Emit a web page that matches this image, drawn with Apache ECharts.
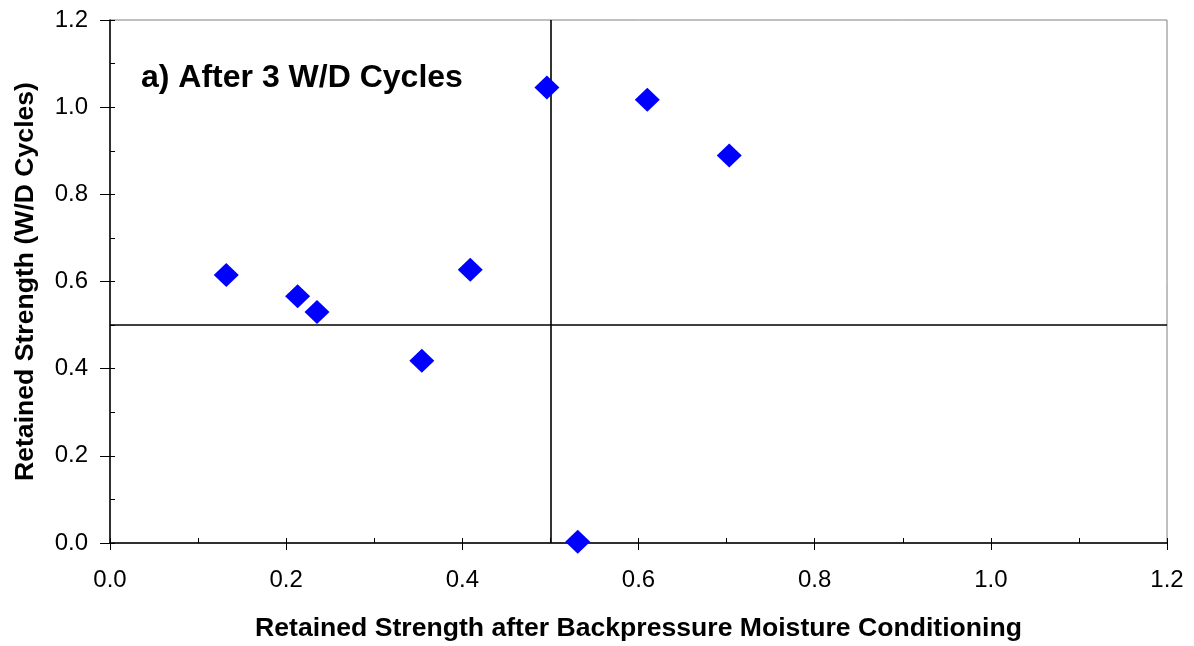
<!DOCTYPE html>
<html><head><meta charset="utf-8">
<script src="https://cdn.jsdelivr.net/npm/echarts@6/dist/echarts.min.js"></script>
<style>html,body{margin:0;padding:0;background:#fff}#c{width:1194px;height:646px}</style>
</head><body><div id="c"></div>
<script>
const xValues = [0.132, 0.213, 0.235, 0.354, 0.409, 0.496, 0.531, 0.610, 0.703];
const yValues = [0.615, 0.566, 0.530, 0.418, 0.627, 1.045, 0.003, 1.017, 0.889];
const refX = 0.5;
const refY = 0.5;
const xTitle = 'Retained Strength after Backpressure Moisture Conditioning';
const yTitle = 'Retained Strength (W/D Cycles)';
const panelLabel = 'a) After 3 W/D Cycles';

const pts = xValues.map((x, i) => [x, yValues[i]]);
const font = '"Liberation Sans", Arial, sans-serif';
const chart = echarts.init(document.getElementById('c'));
chart.setOption({
  animation: false,
  grid: { left: 110, top: 20, right: 27, bottom: 103, containLabel: false, outerBoundsMode: 'none', show: true, borderColor: '#808080', borderWidth: 1 },
  title: { text: panelLabel, left: 136, top: 57, textStyle: { fontFamily: font, fontSize: 32, fontWeight: 'bold', color: '#000' } },
  xAxis: [{
    type: 'value', min: 0, max: 1.2, interval: 0.2,
    name: xTitle, nameLocation: 'middle', nameGap: 72,
    nameTextStyle: { fontFamily: font, fontSize: 26.6, fontWeight: 'bold', color: '#000' },
    axisLine: { onZero: false, lineStyle: { color: '#000', width: 1.5 } },
    axisTick: { show: true, inside: false, length: 7, lineStyle: { color: '#000' } },
    axisLabel: { fontFamily: font, fontSize: 24, color: '#000', margin: 25, formatter: v => v.toFixed(1) },
    splitLine: { show: false }
  }, {
    type: 'value', min: 0, max: 1.2, interval: 0.1, position: 'bottom',
    axisLine: { show: false },
    axisTick: { show: true, inside: true, length: 5, lineStyle: { color: '#000' } },
    axisLabel: { show: false }, splitLine: { show: false }
  }],
  yAxis: [{
    type: 'value', min: 0, max: 1.2, interval: 0.2,
    name: yTitle, nameLocation: 'middle', nameGap: 71,
    nameTextStyle: { fontFamily: font, fontSize: 26.6, fontWeight: 'bold', color: '#000' },
    axisLine: { onZero: false, lineStyle: { color: '#000', width: 1.5 } },
    axisTick: { show: true, inside: false, length: 10, lineStyle: { color: '#000' } },
    axisLabel: { fontFamily: font, fontSize: 24, color: '#000', margin: 22, formatter: v => v.toFixed(1) },
    splitLine: { show: false }
  }, {
    type: 'value', min: 0, max: 1.2, interval: 0.1, position: 'left',
    axisLine: { show: false },
    axisTick: { show: true, inside: true, length: 5, lineStyle: { color: '#000' } },
    axisLabel: { show: false }, splitLine: { show: false }
  }],
  series: [{
    type: 'scatter', xAxisIndex: 0, yAxisIndex: 0,
    data: pts, symbol: 'diamond', symbolSize: [25, 24],
    itemStyle: { color: '#0000FF', opacity: 1 }, z: 5,
    emphasis: { disabled: true },
    markLine: {
      silent: true, symbol: 'none', label: { show: false },
      lineStyle: { color: '#000', width: 1.6, type: 'solid', opacity: 1 },
      emphasis: { disabled: true },
      data: [{ xAxis: refX }, { yAxis: refY }],
      z: 3
    }
  }]
});
</script></body></html>
